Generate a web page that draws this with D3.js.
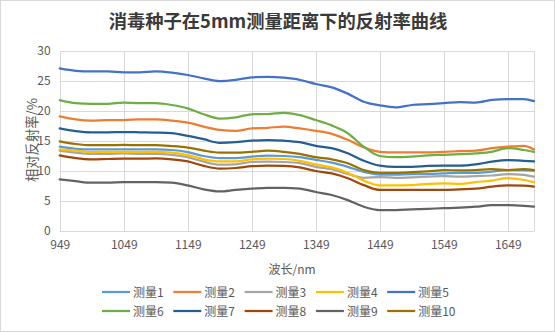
<!DOCTYPE html>
<html>
<head>
<meta charset="utf-8">
<script src="https://cdn.jsdelivr.net/npm/d3@7"></script>
<style>
  body { margin: 0; background: #fff; }
  text { font-family: "Noto Sans CJK SC", "Noto Sans", sans-serif; }
</style>
</head>
<body>
<div id="chart"></div>
<script>
// wavelength (nm) sample points
const wavelength = [949, 974, 999, 1024, 1049, 1074, 1099, 1124, 1149, 1174, 1199,
    1224, 1249, 1274, 1299, 1324, 1349, 1374, 1399, 1424, 1449,
    1474, 1499, 1524, 1549, 1574, 1599, 1624, 1649, 1674, 1690];

const seriesNames = ['测量1', '测量2', '测量3', '测量4', '测量5',
    '测量6', '测量7', '测量8', '测量9', '测量10'];

const colors = ['#5B9BD5', '#ED7D31', '#A5A5A5', '#FFC000', '#4472C4',
    '#70AD47', '#255E91', '#9E480E', '#636363', '#997300'];

const m1 = [14.05, 13.7, 13.6, 13.6, 13.6, 13.6, 13.6, 13.5, 13.15, 12.5, 12.15,
    12.15, 12.4, 12.55, 12.5, 12.3, 11.85, 11.4, 10.7, 9.85, 9.4,
    9.4, 9.5, 9.5, 9.6, 9.7, 9.7, 9.9, 10.15, 10.15, 10.05];
const m2 = [19.1, 18.6, 18.4, 18.5, 18.5, 18.6, 18.6, 18.4, 18.05, 17.4, 16.85,
    16.7, 17.1, 17.2, 17.4, 17.1, 16.7, 16.2, 15.2, 13.95, 13.2,
    13.1, 13.1, 13.1, 13.2, 13.3, 13.4, 13.8, 14.05, 14.2, 13.6];
const m3 = [13.4, 13.05, 12.85, 12.85, 12.95, 12.85, 12.85, 12.7, 12.3, 11.55, 11.05,
    11.1, 11.5, 11.55, 11.5, 11.3, 10.7, 10.3, 9.5, 8.85, 9.0,
    8.85, 8.95, 9.05, 9.15, 9.05, 9.15, 9.25, 9.5, 9.35, 9.05];
const m4 = [13.6, 13.4, 13.15, 13.2, 13.2, 13.15, 13.2, 13.05, 12.65, 11.95, 11.6,
    11.6, 11.95, 12.05, 12.0, 11.7, 11.1, 10.6, 9.7, 8.4, 7.6,
    7.6, 7.65, 7.85, 7.95, 7.85, 8.15, 8.4, 8.8, 8.5, 8.15];
const m5 = [27.1, 26.7, 26.6, 26.6, 26.45, 26.45, 26.6, 26.4, 26.0, 25.45, 25.0,
    25.2, 25.6, 25.7, 25.55, 25.2, 24.5, 23.95, 22.9, 21.55, 20.95,
    20.6, 21.0, 21.15, 21.3, 21.5, 21.4, 21.85, 22.0, 22.0, 21.65];
const m6 = [21.8, 21.3, 21.2, 21.2, 21.4, 21.3, 21.3, 21.0, 20.45, 19.45, 18.75,
    18.95, 19.45, 19.5, 19.7, 19.3, 18.5, 17.6, 16.3, 14.05, 12.5,
    12.3, 12.4, 12.6, 12.7, 12.8, 12.95, 13.2, 13.8, 13.5, 13.2];
const m7 = [17.1, 16.65, 16.45, 16.45, 16.5, 16.45, 16.4, 16.3, 15.85, 15.3, 14.7,
    14.8, 15.05, 15.15, 15.05, 14.8, 14.2, 13.8, 12.95, 11.7, 10.9,
    10.7, 10.7, 10.85, 10.9, 10.9, 11.1, 11.55, 11.8, 11.7, 11.6];
const m8 = [12.6, 12.15, 11.95, 12.0, 12.05, 12.05, 12.1, 11.95, 11.6, 10.85, 10.4,
    10.5, 10.8, 10.9, 10.85, 10.6, 10.0, 9.6, 8.8, 7.65, 6.85,
    6.85, 6.85, 6.85, 6.85, 6.95, 7.05, 7.4, 7.6, 7.55, 7.4];
const m9 = [8.6, 8.3, 8.05, 8.05, 8.15, 8.15, 8.15, 8.05, 7.6, 6.95, 6.6,
    6.85, 7.05, 7.2, 7.2, 7.05, 6.5, 6.0, 5.15, 4.05, 3.5,
    3.5, 3.6, 3.7, 3.8, 3.9, 4.05, 4.3, 4.3, 4.2, 4.05];
const m10 = [14.95, 14.5, 14.3, 14.3, 14.35, 14.3, 14.3, 14.15, 13.9, 13.4, 13.05,
    13.05, 13.2, 13.4, 13.2, 12.85, 12.3, 11.95, 11.3, 10.15, 9.7,
    9.7, 9.8, 9.95, 10.15, 10.1, 10.15, 10.3, 10.15, 10.3, 10.15];

const allSeries = [m1, m2, m3, m4, m5, m6, m7, m8, m9, m10];
const xTicks = [949, 1049, 1149, 1249, 1349, 1449, 1549, 1649];
const yTicks = [0, 5, 10, 15, 20, 25, 30];

const W = 555, H = 332;
const plotL = 59.7, plotR = 534, plotT = 51, plotB = 231;

const svg = d3.select('#chart').append('svg')
    .attr('width', W)
    .attr('height', H);

svg.append('rect')
    .attr('x', 0.5).attr('y', 0.5)
    .attr('width', W - 1).attr('height', H - 1)
    .attr('fill', '#fff')
    .attr('stroke', '#d9d9d9');

let x = d3.scaleLinear().domain([949, 1690]).range([plotL, plotR]);
let y = d3.scaleLinear().domain([0, 30]).range([plotB, plotT]);

// grid
svg.append('g')
    .selectAll('line')
    .data(yTicks)
    .join('line')
    .attr('x1', plotL).attr('x2', plotR)
    .attr('y1', d => Math.round(y(d)) + 0.5)
    .attr('y2', d => Math.round(y(d)) + 0.5)
    .attr('stroke', '#d9d9d9');

svg.append('g')
    .selectAll('line')
    .data(xTicks.concat([1690]))
    .join('line')
    .attr('x1', d => Math.round(x(d)) + 0.5)
    .attr('x2', d => Math.round(x(d)) + 0.5)
    .attr('y1', plotT).attr('y2', plotB)
    .attr('stroke', '#d9d9d9');

// axes
let yAxis = svg.append('g')
    .attr('transform', `translate(${plotL},0)`)
    .call(d3.axisLeft(y).tickValues(yTicks).tickSize(0).tickPadding(9));
yAxis.select('.domain').remove();
yAxis.selectAll('text').attr('font-size', 12).attr('fill', '#595959');

let xAxis = svg.append('g')
    .attr('transform', `translate(0,${plotB})`)
    .call(d3.axisBottom(x).tickValues(xTicks).tickSize(0).tickPadding(9).tickFormat(d => d));
xAxis.select('.domain').remove();
xAxis.selectAll('text').attr('font-size', 12).attr('fill', '#595959');

// lines
const line = d3.line()
    .x((d, i) => x(wavelength[i]))
    .y(d => y(d))
    .curve(d3.curveMonotoneX);

svg.append('g')
    .selectAll('path')
    .data(allSeries)
    .join('path')
    .attr('d', line)
    .attr('fill', 'none')
    .attr('stroke', (d, i) => colors[i])
    .attr('stroke-width', 2.25)
    .attr('stroke-linejoin', 'round')
    .attr('stroke-linecap', 'round');

// titles
svg.append('text')
    .attr('x', 278).attr('y', 28)
    .attr('text-anchor', 'middle')
    .attr('font-size', 18.3)
    .attr('font-weight', 'bold')
    .attr('fill', '#3a3a3a')
    .text('消毒种子在5mm测量距离下的反射率曲线');

svg.append('text')
    .attr('transform', 'translate(37,140) rotate(-90)')
    .attr('text-anchor', 'middle')
    .attr('font-size', 13.3)
    .attr('fill', '#595959')
    .text('相对反射率/%');

svg.append('text')
    .attr('x', 292).attr('y', 274)
    .attr('text-anchor', 'middle')
    .attr('font-size', 12)
    .attr('fill', '#595959')
    .text('波长/nm');

// legend
let legend = svg.append('g')
    .selectAll('g')
    .data(seriesNames)
    .join('g')
    .attr('transform', (d, i) => `translate(${102 + (i % 5) * 71.3},${292 + Math.floor(i / 5) * 19})`);

legend.append('line')
    .attr('x1', 0).attr('x2', 28)
    .attr('stroke', (d, i) => colors[i])
    .attr('stroke-width', 2.25);

legend.append('text')
    .attr('x', 31).attr('y', 4.5)
    .attr('font-size', 12)
    .attr('fill', '#595959')
    .text(d => d);
</script>
</body>
</html>
